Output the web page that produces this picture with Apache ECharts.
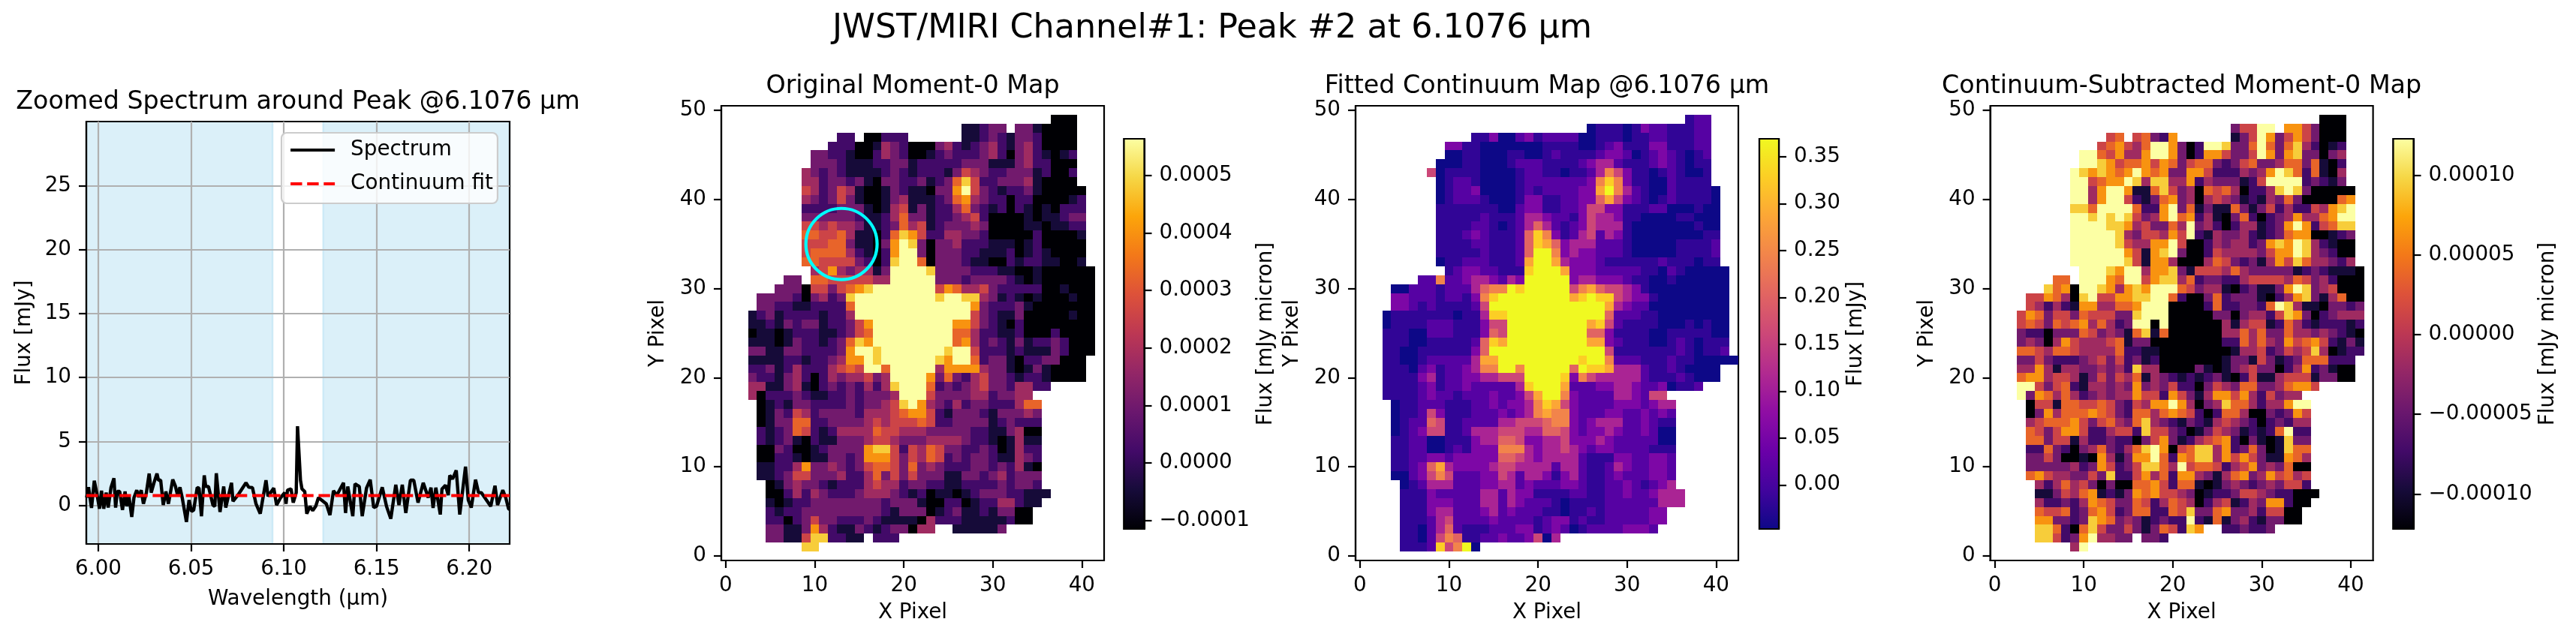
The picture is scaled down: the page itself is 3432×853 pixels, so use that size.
<!DOCTYPE html>
<html>
<head>
<meta charset="utf-8">
<style>html,body{margin:0;padding:0;background:#fff}#c{width:3432px;height:853px}</style>
<script src="https://cdn.jsdelivr.net/npm/echarts@6/dist/echarts.min.js"></script>
</head>
<body>
<div id="c"></div>
<script>
const supTitle = 'JWST/MIRI Channel#1: Peak #2 at 6.1076 µm';
const panelTitles = ['Zoomed Spectrum around Peak @6.1076 µm','Original Moment-0 Map','Fitted Continuum Map @6.1076 µm','Continuum-Subtracted Moment-0 Map'];

const spectrumWave = [5.9937,5.9947,5.9963,5.9978,5.9991,6.0006,6.0017,6.0029,6.0042,6.0053,6.0068,6.0084,6.0093,6.0102,6.0115,6.0130,6.0144,6.0153,6.0164,6.0180,6.0192,6.0207,6.0218,6.0231,6.0243,6.0259,6.0274,6.0285,6.0300,6.0316,6.0324,6.0336,6.0350,6.0364,6.0378,6.0401,6.0416,6.0427,6.0440,6.0452,6.0475,6.0489,6.0502,6.0514,6.0533,6.0543,6.0556,6.0571,6.0579,6.0594,6.0618,6.0628,6.0636,6.0656,6.0676,6.0687,6.0718,6.0726,6.0757,6.0796,6.0811,6.0831,6.0850,6.0873,6.0904,6.0915,6.0946,6.0961,6.0983,6.1005,6.1012,6.1020,6.1039,6.1051,6.1067,6.1074,6.1090,6.1098,6.1113,6.1124,6.1141,6.1156,6.1172,6.1187,6.1229,6.1249,6.1268,6.1286,6.1322,6.1333,6.1345,6.1372,6.1384,6.1407,6.1423,6.1446,6.1466,6.1485,6.1500,6.1531,6.1554,6.1577,6.1604,6.1621,6.1639,6.1658,6.1683,6.1701,6.1724,6.1752,6.1779,6.1794,6.1805,6.1820,6.1844,6.1853,6.1872,6.1887,6.1895,6.1910,6.1930,6.1949,6.1980,6.1995,6.2011,6.2034,6.2050,6.2065,6.2116,6.2139,6.2153,6.2181,6.2197,6.2212,6.2218];
const spectrumFlux = [0.62,1.43,-0.19,1.94,1.01,-0.25,1.16,-0.25,1.01,-0.16,1.40,2.13,-0.16,1.10,1.10,-0.35,1.10,-0.06,0.81,-0.89,0.62,1.20,0.66,1.20,0.14,1.01,2.50,1.01,1.78,2.50,1.98,1.98,0.04,1.10,0.14,2.03,1.49,0.81,1.43,0.62,-1.28,0.43,-0.45,-0.35,1.40,1.36,-0.83,2.36,1.49,1.49,0.04,-0.06,2.52,-0.50,1.49,-0.16,1.78,0.33,0.91,1.78,1.43,1.40,0.14,-0.64,1.98,0.72,1.36,0.04,0.62,1.01,0.14,1.20,1.30,0.23,1.01,6.20,1.98,1.30,1.10,-0.64,-0.06,-0.39,-0.06,0.62,0.14,-0.74,1.16,0.81,1.78,-0.58,1.49,-0.83,1.69,1.49,-0.83,1.36,2.02,-0.16,-0.06,1.43,-0.06,-1.03,1.63,0.04,1.63,-0.58,1.98,1.98,0.23,1.78,0.62,1.40,-0.19,1.40,-0.70,1.30,1.59,0.81,2.36,2.07,2.75,-0.70,3.04,0.43,-0.16,2.02,1.01,1.01,-0.06,1.55,0.04,1.20,0.62,-0.25,-0.30];
const continuumWave = [5.9935,6.2218];
const continuumFlux = [0.78,0.78];
const fitWindows = [[5.9935,6.0940],[6.1212,6.2218]];
const spectrumXTicks = [6.00,6.05,6.10,6.15,6.20];
const spectrumYTicks = [0,5,10,15,20,25];
const pixelXTicks = [0,10,20,30,40];
const pixelYTicks = [0,10,20,30,40,50];
const moment0Ticks = [-0.0001,0,0.0001,0.0002,0.0003,0.0004,0.0005];
const continuumTicks = [0,0.05,0.10,0.15,0.20,0.25,0.30,0.35];
const subtractedTicks = [-0.0001,-0.00005,0,0.00005,0.0001];
const moment0Range = [-0.000115,0.000564];
const continuumRange = [-0.047,0.369];
const subtractedRange = [-0.000122,0.000123];
const apertureCircle = [[13,35,4]];

// Flux represented by each cell code (index = base-36 digit of the code).
const moment0Levels = [-0.000115,-0.000047,0.000021,0.000102,0.000177,0.000258,0.000326,0.000401,0.000483,0.000564,0.000442];
const continuumLevels = [-0.047,-0.0179,0.0154,0.057,0.1111,0.161,0.2026,0.2442,0.2858,0.369,0.3274];
const subtractedLevels = [-0.000122,-0.0000975,-0.0000730,-0.0000436,-0.0000167,0.0000127,0.0000373,0.0000642,0.0000936,0.000123,0.0000789];

const topRow = 49; // first string = row 49; "col:codes", '.' = no data
const moment0Rows = [
"37:000",
"27:11233.3310000",
"13:22.00222......1123213320000",
"12:2220014320003421234213420000",
"10:332210024320012322234203421012",
"10:333211122331222223331113422000",
"9:4323211112321222135432233312002",
"9:442332310 3322312368 52233341 0000",
"9:5423541001 3211033795 3212231000 00",
"9:4323531001 3411123674 3220220000 12",
"9:2222333101 4513122463 2120210102 22",
"9:3333332112 4633122345 2000010112 33",
"9:5545443112 3645123334 3000011011 22",
"9:6655641102 6875224433 2000002000 01",
"9:5556631103 7983033422 2111012000 00",
"9:5666642102 7993033322 1112012100 00",
"9:6655553202 8996033321 1002122110 01",
"10:4574344139 9998333322 2110010000 00",
"7:33.665555544 99999 3332333321 01 000000",
"6:3330553567 8999999957 6445322222 001000",
"4:3333203423 8999999999 8998843121 01000100",
"4:3322112222 6 9999999999999 7322231 0000000",
"3:1231222212 24 9999999999999 53211300000100",
"3:1121323312 2357 999999999 775321020 0000000",
"3:0110122211 2356 999999999 6642211200020000",
"3:1110132212 3687 999999999 6742321312232000",
"3:3311332222 37998 9999999 89952221211132000",
"3:1111221223 47798 999999 87996233102233000",
"3:2231242224 565996 99999 47777433101310000",
"3:3221342024 344534 9999 736324533212210000",
"3:4411341023 232424 8999 6 2323453324422",
"3:4022232112 2323334 999 5 33334423344",
"4:0121332222 323345 8974 324233222466",
"4:0132542333 324445 6775 213332133343",
"4:0133662233 334545 5565 223333123222",
"4:2123652124 444655 4443 333322113400",
"4:2123102113 334554 3334 444322101411",
"4:0032001233 337885 2546 533223201422",
"4:0022101133 237775 3546 523233211432",
"4:1122473343 235665 3634 322233232410",
"4:1123553334 224635 3533 311332342333",
"5:013433212 224544 2332 211222232332",
"5:002424322 234443 2120 1101233322111",
"5:101223333 333323 3310 022012244211",
"5:212233333 333321 3330 12311213300",
"5:220235332 223211 1104 22211111200",
"5:331137421 132123 3044 ..111113",
"5:331158822 11.222",
"9:88"
];
const continuumRows = [
"37:122",
"26:01110132211122",
"13:1130023122 2200111011 2211122",
"10:3311000000 0111100123 1113311122",
"10:0011000110 0121111233 2012321012",
"9:0001100012 2211112344 21112321011",
"8:5011110000 1221101124 753110121001",
"9:0122100001 222222237a 73110021111",
"9:0122300001 2122223389 742100211110",
"9:0122210001 3311223368 532101211110",
"9:1111111002 3311223553 311122000100",
"9:1111121112 4432213544 311000011000",
"9:1111221012 4642123544 410000000100",
"9:1112321112 6a73124524 310000000011",
"9:1111221112 6a86344422 210000011112",
"9:1111121112 6997343322 210000011112",
"9:0112221112 8998433321 111112111011",
"10:123322111a 9998333222 221102100000",
"7:227223443243 99999 344333211001000000",
"4:0022212224677 9a 99999 5786554 31 000000000",
"4:33222122137a 99999999 8a9aa54331 00000000",
"4:33212111125 9999999999999 843220 00000000",
"3:011111110114 aa 99999999999 622211 00000000",
"3:01111222111355 999999999 8a52111100010100",
"3:11100222111365 999999999 6631111001111100",
"3:11100111112 6a8 999999999 8832111001210111",
"3:110011111136 9999999999999 51111111210112",
"3:1100122222488 999999999 a99 722211121100000",
"3:1110231223477 997 99999 69aa 8444211210000",
"3:1111341223344555 9999 a 37544444 211121000",
"3:1111231223222224 a999 8 22233443223 0112",
"3:1111232212223223 58997 32222443255",
"4:0112221112232334 7a85 322223332344",
"4:0112531112223234 7877 322233223232",
"4:0122651122224455 5677 323444223211",
"4:0123551124445554 4665 323343223200",
"4:1122001113446653 3445 333432222200",
"4:1122001213337774 3445 432332222111",
"4:1122332333336654 3444 421113322332",
"4:1123684333345544 4424 421124322332",
"4:0023575222335424 4313 421123222332",
"5:012444222 334423 2223 321122321234",
"5:111322222 442433 1111 2211223223444",
"5:111333222 442432 2210 1111222222444",
"5:111344222 342322 2110 11212222233",
"5:111245222 232222 1233 12112222233",
"5:110246211 122233 1232 0122223332",
"5:110257611 223223 504",
"5:1112a5790"
];
const subtractedRows = [
"37:000",
"27:35599.7753000",
"13:56.56327......1359735753000",
"12:5675469973 0299833696 36842012",
"10:9965744799 7302775335 9737833034",
"10:9987566757 6356632356 3346636102",
"9:9878767976 7337752224 34798626104",
"9:9956779848 8447243331 25999923213",
"9:9947997116 8534065640 224898300000",
"9:9947995213 6734045431 214363000067",
"9:8869999622 7936131163 135242254789",
"9:9989898534 7967241036 202347446799",
"9:9999887453 3649342024 412379725688",
"9:9999984355 4759214334 212367700123",
"9:9999985447 7950024344 237879842100",
"9:9999997517 8930025444 435779843200",
"9:9999998517 7400046532 314758644324",
"10:9998799477 8315554643 333312321110",
"7:66.99976995 788462 332245555465342000",
"6:8670998747 8799965344 1023113798 345000",
"4:5576408955 7788996200 3623331024 78314600",
"4:5424217744 6679990000 2622332698 41103323",
"3:5763553655 5338999000 0033034425 873023444",
"3:5653656746 4239909000 0004145512 642122212",
"3:3220333653 4316816000 0004464633 644343210",
"3:3430475444 5613300000 0002264643 756752131",
"3:6654665444 4622110000 0000144523 545840122",
"3:3353222345 3523120000 0001331531 23666222",
"3:4474144334 3428440000 3101345330 24723100",
"3:6774554135 3546143212 1231025114 55513300",
"3:9953562144 3437343522 0354366334 6775",
"3:9376464234 3447552753 1477574253 44",
"4:0551665565 3254779740 348664244799",
"4:0374666765 3266467652 026640032375",
"4:4566675356 4368432132 145432023244",
"4:6535775224 5528553201 354312126922",
"4:6635514223 2203573124 567203101833",
"4:2263203463 2468970568 847236301866",
"4:3353001074 1377962768 847575311764",
"4:3333342375 2358864956 652457343600",
"4:6754433538 2257462774 314673475645",
"5:424645303 0066752661 013432343552",
"5:113546712 1376755430 1223554322000",
"5:422324765 3365246540 245124377200",
"5:655623675 2366226583 36733425500",
"5:773323876 3431232292 16134213300",
"5:886206853 3531365287 ..223223",
"5:885237944 33.332",
"9:49"
];

const inferno = ['#000004','#160b39','#420a68','#6a176e','#932667','#bc3754','#dd513a','#f37819','#fca50a','#f6d746','#fcffa4'];
const plasma = ['#0d0887','#41049d','#6a00a8','#8f0da4','#b12a90','#cc4778','#e16462','#f2844b','#fca636','#fcce25','#f0f921'];

function toCells(rows, levels){
  const out=[];
  rows.forEach((s,i)=>{
    const parts=s.split(':'); let c=+parts[0];
    for(const ch of parts[1]){
      if(ch===' ') continue;
      if(ch!=='.') out.push([c, topRow-i, levels[parseInt(ch,36)]]);
      c++;
    }
  });
  return out;
}
function hex(h){return [1,3,5].map(i=>parseInt(h.substr(i,2),16));}
function cmapColor(cmap,t){
  t=Math.max(0,Math.min(1,t))*(cmap.length-1);
  const i=Math.min(Math.floor(t),cmap.length-2),f=t-i,a=hex(cmap[i]),b=hex(cmap[i+1]);
  return 'rgb('+a.map((v,k)=>Math.round(v+(b[k]-v)*f)).join(',')+')';
}
const FONT='DejaVu Sans', FS=27.8, LW=2.2;
const axisText={color:'#000',fontFamily:FONT,fontSize:FS};
const nameText={color:'#000',fontFamily:FONT,fontSize:FS};
const black={color:'#000',width:LW};

function valueAxis(o){
  const fmt=o.fmt;
  return {
    type:'value',gridIndex:o.grid,min:o.min,max:o.max,position:o.position,z:1,
    name:o.name,nameLocation:'middle',nameGap:o.nameGap,nameRotate:o.nameRotate,nameTextStyle:nameText,
    axisLine:{show:true,onZero:false,lineStyle:black},
    axisTick:{show:true,length:10,lineStyle:black,customValues:o.ticks},
    axisLabel:{show:true,margin:o.margin||20,hideOverlap:false,customValues:o.ticks,formatter:fmt,padding:o.labelPad||0,...axisText},
    splitLine:{show:!!o.grid_lines,lineStyle:{color:'#b0b0b0',width:LW}}
  };
}
const minus=s=>s.replace('-','\u2212');
const grids=[
  {left:115,top:162,width:564,height:563},
  {left:961,top:141,width:510,height:606},
  {left:1806,top:141,width:510,height:606},
  {left:2651.6,top:141,width:510,height:606},
  {left:1497.5,top:185,width:27,height:520},
  {left:2344,top:185,width:26,height:520},
  {left:3188.5,top:185,width:27,height:520}
];
grids.forEach(g=>{g.show=true;g.z=1;g.borderColor='#000';g.borderWidth=LW;g.backgroundColor='transparent';});

const xAxes=[
  valueAxis({grid:0,min:5.9935,max:6.2218,ticks:spectrumXTicks,name:'Wavelength (µm)',nameGap:60,fmt:v=>v.toFixed(2),grid_lines:true})
];
const yAxes=[
  valueAxis({grid:0,min:-3,max:30,ticks:spectrumYTicks,name:'Flux [mJy]',nameGap:68,nameRotate:90,fmt:v=>String(v),grid_lines:true,labelPad:[5,0,0,0]})
];
[1,2,3].forEach(g=>{
  xAxes.push(valueAxis({grid:g,min:-0.5,max:42.5,ticks:pixelXTicks,name:'X Pixel',nameGap:56,fmt:v=>String(v)}));
  yAxes.push(valueAxis({grid:g,min:-0.5,max:50.5,ticks:pixelYTicks,name:'Y Pixel',nameGap:70,nameRotate:90,fmt:v=>String(v),labelPad:[5,0,0,0]}));
});
const bars=[
  {range:moment0Range,ticks:moment0Ticks,dec:4,name:'Flux [mJy micron]',gap:148,cmap:inferno},
  {range:continuumRange,ticks:continuumTicks,dec:2,name:'Flux [mJy]',gap:89,cmap:plasma},
  {range:subtractedRange,ticks:subtractedTicks,dec:5,name:'Flux [mJy micron]',gap:165,cmap:inferno}
];
bars.forEach((b,i)=>{
  xAxes.push({type:'value',gridIndex:4+i,min:0,max:1,show:false});
  yAxes.push(valueAxis({grid:4+i,min:b.range[0],max:b.range[1],position:'right',ticks:b.ticks,name:b.name,nameGap:b.gap,nameRotate:90,labelPad:[4,0,0,0],
    fmt:v=>minus(v.toFixed(b.dec))}));
});

function cellSeries(idx,cells,cmap,range){
  return {
    type:'custom',xAxisIndex:idx,yAxisIndex:idx,coordinateSystem:'cartesian2d',data:cells,encode:{x:0,y:1},
    silent:true,progressive:0,z:2,
    renderItem:(p,api)=>{
      const x=api.value(0),y=api.value(1),v=api.value(2);
      const a=api.coord([x-0.5,y+0.5]),b=api.coord([x+0.5,y-0.5]);
      const l=Math.round(a[0]),t=Math.round(a[1]),r=Math.round(b[0]),m=Math.round(b[1]);
      return {type:'rect',shape:{x:l,y:t,width:r-l,height:m-t},
        style:{fill:cmapColor(cmap,(v-range[0])/(range[1]-range[0]))}};
    }
  };
}
function barSeries(idx,b){
  const stops=b.cmap.map((c,i)=>({offset:1-i/(b.cmap.length-1),color:c})).reverse();
  return {
    type:'custom',xAxisIndex:idx,yAxisIndex:idx,coordinateSystem:'cartesian2d',silent:true,z:3,
    data:[[0,b.range[0],1,b.range[1]]],encode:{x:[0,2],y:[1,3]},
    renderItem:(p,api)=>{
      const a=api.coord([api.value(0),api.value(3)]),c=api.coord([api.value(2),api.value(1)]);
      return {type:'rect',shape:{x:a[0],y:a[1],width:c[0]-a[0],height:c[1]-a[1]},
        style:{fill:new echarts.graphic.LinearGradient(0,0,0,1,stops),stroke:'#000',lineWidth:LW}};
    }
  };
}
const zip=(a,b)=>a.map((v,i)=>[v,b[i]]);
const titleBase={textAlign:'center',textStyle:{color:'#000',fontFamily:FONT,fontWeight:'normal',fontSize:33.3},padding:0};
const hiddenMark={color:'transparent',borderColor:'transparent',borderWidth:0,opacity:0};
const option={
  animation:false,backgroundColor:'#fff',
  title:[
    {...titleBase,text:supTitle,left:1615,top:16,textStyle:{...titleBase.textStyle,fontSize:44.4}},
    {...titleBase,text:panelTitles[0],left:397,top:120},
    {...titleBase,text:panelTitles[1],left:1216,top:99},
    {...titleBase,text:panelTitles[2],left:2061,top:99},
    {...titleBase,text:panelTitles[3],left:2906.6,top:99}
  ],
  grid:grids,xAxis:xAxes,yAxis:yAxes,
  legend:{
    left:375,top:177,orient:'vertical',padding:[9,6,12,10],itemGap:17,itemWidth:59,itemHeight:14,
    backgroundColor:'rgba(255,255,255,0.8)',borderColor:'#cccccc',borderWidth:2.2,borderRadius:7,
    textStyle:{color:'#000',fontFamily:FONT,fontSize:FS,padding:[0,0,0,16]},
    data:[
      {name:'Spectrum',itemStyle:hiddenMark,lineStyle:{color:'#000',width:4.2,type:'solid',opacity:1}},
      {name:'Continuum fit',itemStyle:hiddenMark,lineStyle:{color:'#ff0000',width:4.2,type:[15.4,6.7],opacity:1}}
    ]
  },
  series:[
    {type:'custom',xAxisIndex:0,yAxisIndex:0,coordinateSystem:'cartesian2d',silent:true,z:0,
     data:fitWindows,encode:{x:[0,1]},
     renderItem:(p,api)=>{
       const a=api.coord([api.value(0),30]),b=api.coord([api.value(1),-3]);
       return {type:'rect',shape:{x:a[0],y:a[1],width:b[0]-a[0],height:b[1]-a[1]},
         style:{fill:'rgba(135,206,235,0.3)',stroke:'rgba(135,206,235,0.3)',lineWidth:2.2}};
     }},
    {name:'Spectrum',type:'line',xAxisIndex:0,yAxisIndex:0,data:zip(spectrumWave,spectrumFlux),showSymbol:false,symbol:'none',z:4,
     lineStyle:{color:'#000',width:4.4},itemStyle:{color:'#000'},emphasis:{disabled:true}},
    {name:'Continuum fit',type:'line',xAxisIndex:0,yAxisIndex:0,data:zip(continuumWave,continuumFlux),showSymbol:false,symbol:'none',z:5,
     lineStyle:{color:'#ff0000',width:4.2,type:[15.4,6.7]},itemStyle:{color:'#ff0000'},emphasis:{disabled:true}},
    cellSeries(1,toCells(moment0Rows,moment0Levels),inferno,moment0Range),
    cellSeries(2,toCells(continuumRows,continuumLevels),plasma,continuumRange),
    cellSeries(3,toCells(subtractedRows,subtractedLevels),inferno,subtractedRange),
    {type:'custom',xAxisIndex:1,yAxisIndex:1,coordinateSystem:'cartesian2d',silent:true,z:6,
     data:apertureCircle,encode:{x:0,y:1},
     renderItem:(p,api)=>{
       const c=api.coord([api.value(0),api.value(1)]),e=api.coord([api.value(0)+api.value(2),api.value(1)]);
       return {type:'circle',shape:{cx:c[0],cy:c[1],r:e[0]-c[0]},style:{fill:'none',stroke:'#00ffff',lineWidth:4.2}};
     }},
    barSeries(4,bars[0]),barSeries(5,bars[1]),barSeries(6,bars[2])
  ]
};
const chart=echarts.init(document.getElementById('c'),null,{renderer:'canvas',width:3432,height:853});
chart.setOption(option);
</script>
</body>
</html>
